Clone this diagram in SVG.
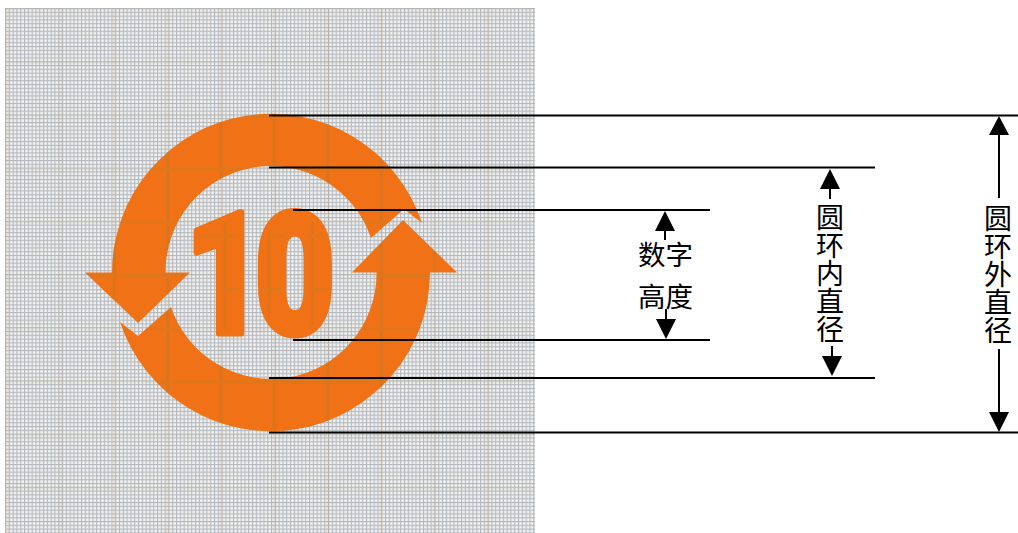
<svg xmlns="http://www.w3.org/2000/svg" width="1018" height="533" viewBox="0 0 1018 533">
<style>
.dim{stroke:#000;stroke-width:2;fill:none}
.head{fill:#000}
.lbl{font-family:"Noto Sans CJK SC","Liberation Sans",sans-serif;font-size:28px;fill:#000}
.lbl2{font-size:27.500px;text-anchor:middle}
.vert{writing-mode:vertical-rl}
</style>
<defs>
<pattern id="fine" width="3.8" height="3.8" patternUnits="userSpaceOnUse" x="5" y="8">
<rect width="3.8" height="3.8" fill="#f2f2f1"/>
<rect width="1.100" height="3.8" fill="#b4b8bd"/>
<rect width="3.8" height="1.100" fill="#b4b8bd"/>
</pattern>
<pattern id="band" width="53.4" height="53.2" patternUnits="userSpaceOnUse" x="3" y="6">
<rect x="3" width="3" height="53.2" fill="#b08a4a" opacity=".1"/>
<rect y="2" width="53.4" height="3" fill="#b08a4a" opacity=".07"/>
</pattern>
<pattern id="orange" width="53.4" height="53.2" patternUnits="userSpaceOnUse" x="3" y="6">
<rect width="53.4" height="53.2" fill="#f17212"/>
<rect x="3" width="3" height="53.2" fill="#d8741e"/>
<rect y="2" width="53.4" height="3" fill="#e0761c"/>
</pattern>
<filter id="soft" x="-5%" y="-5%" width="110%" height="110%"><feGaussianBlur stdDeviation="0.7"/></filter>
</defs>
<rect width="1018" height="533" fill="#fff"/>
<g id="background">
<rect x="5" y="8" width="530" height="525" fill="url(#fine)"/>
<rect x="5" y="8" width="530" height="525" fill="url(#band)"/>
</g>
<g id="logo" filter="url(#soft)" fill="url(#orange)">
<path d="M112 272.500 A159 159 0 0 1 422 223 L404 209 L371 238 A105.500 105.500 0 0 0 165.500 272.500 L190 272.500 L138 323 L85 272.500 Z"/>
<path d="M430 272.500 A159 159 0 0 1 120 322 L138 336 L171 307 A105.500 105.500 0 0 0 376.500 272.500 L352 272.500 L403 220 L457 272.500 Z"/>
<text transform="translate(0 333) scale(0.82 1)" font-family="Roboto" font-weight="900" font-size="168" stroke="#f17212" stroke-width="7" stroke-linejoin="round" x="226 311">10</text>
</g>
<g id="connectors">
<path class="dim" d="M269 115.500H1018M269 167.500H875M293 210H710M293 340H710M269 378H875M269 432.500H1018"/>
<path class="dim" d="M999 130V198M999 349V420M830 185V199M832 346V360M665 227V240M666 309V323"/>
<path class="head" d="M999 116L1009 135H989ZM999 432L1009 412H989ZM830 169L840 189H820ZM832 376L842 356H822ZM665 211L675 231H655ZM666 339L676 319H656Z"/>
</g>
<g id="label-digit-height">
<text class="lbl lbl2" x="665.500" y="265">数字</text>
<text class="lbl lbl2" x="665.500" y="307">高度</text>
</g>
<g id="label-inner-diameter">
<text class="lbl vert" x="830" y="203">圆</text>
<text class="lbl vert" x="830" y="231">环</text>
<text class="lbl vert" x="830" y="259">内</text>
<text class="lbl vert" x="830" y="287">直</text>
<text class="lbl vert" x="830" y="315">径</text>
</g>
<g id="label-outer-diameter">
<text class="lbl vert" x="998" y="204">圆</text>
<text class="lbl vert" x="998" y="232">环</text>
<text class="lbl vert" x="998" y="260">外</text>
<text class="lbl vert" x="998" y="288">直</text>
<text class="lbl vert" x="998" y="316">径</text>
</g>
</svg>
